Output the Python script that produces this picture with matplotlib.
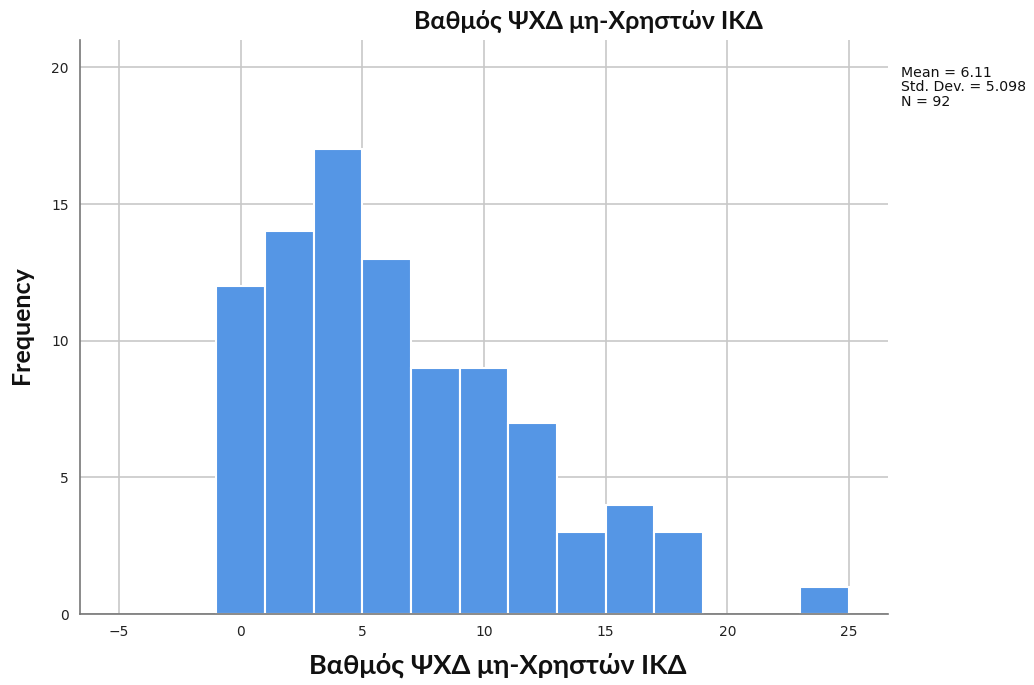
import matplotlib.pyplot as plt

# bin edges (width 2) and counts
bin_starts = [-1, 1, 3, 5, 7, 9, 11, 13, 15, 17, 19, 21, 23]
counts = [12, 14, 17, 13, 9, 9, 7, 3, 4, 3, 0, 0, 1]
bin_width = 2
x_ticks = [-5, 0, 5, 10, 15, 20, 25]
y_ticks = [0, 5, 10, 15, 20]
title = "Βαθμός ΨΧΔ μη-Χρηστών ΙΚΔ"
stats_text = "Mean = 6.11\nStd. Dev. = 5.098\nN = 92"

fig = plt.figure(figsize=(10.34, 6.85), dpi=100)
ax = fig.add_axes([0.0774, 0.1036, 0.7814, 0.838])

ax.set_axisbelow(True)
ax.grid(True, color="#c8c8c8", linewidth=1.2)

# skip empty bins so no white edge is drawn on the baseline
xs = [b for b, c in zip(bin_starts, counts) if c > 0]
hs = [c for c in counts if c > 0]
ax.bar(xs, hs, width=bin_width, align="edge",
       color="#5596e5", edgecolor="white", linewidth=1.5, zorder=3)

ax.set_xlim(-6.6, 26.6)
ax.set_ylim(0, 21)
ax.set_xticks(x_ticks)
ax.set_yticks(y_ticks)
ax.set_xticklabels([str(t).replace("-", "\u2212") for t in x_ticks])
ax.tick_params(length=0, labelsize=10, colors="#222222", pad=8)

for s in ["top", "right"]:
    ax.spines[s].set_visible(False)
for s in ["left", "bottom"]:
    ax.spines[s].set_color("#777777")
    ax.spines[s].set_linewidth(1.2)
    ax.spines[s].set_zorder(5)

fig.text(0.569, 0.968, title, fontsize=18, fontweight="bold", family="Lato",
         ha="center", va="center", color="#111111")
fig.text(0.4816, 0.029, title, fontsize=19.5, fontweight="bold", family="Lato",
         ha="center", va="center", color="#111111")
fig.text(0.021, 0.526, "Frequency", fontsize=18, fontweight="bold", family="Lato",
         ha="center", va="center", rotation=90, color="#111111")

fig.text(0.871, 0.904, stats_text, fontsize=10.2, va="top", ha="left",
         linespacing=1.05, color="#111111")

fig.savefig("out.png", dpi=100)
